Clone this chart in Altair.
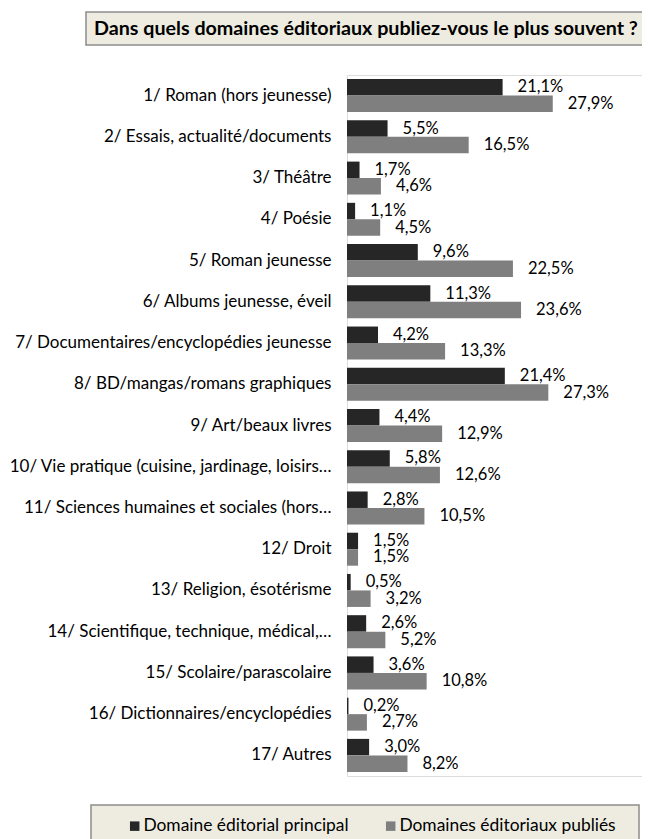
import altair as alt
import pandas as pd

categories = [
    "1/ Roman (hors jeunesse)",
    "2/ Essais, actualité/documents",
    "3/ Théâtre",
    "4/ Poésie",
    "5/ Roman jeunesse",
    "6/ Albums jeunesse, éveil",
    "7/ Documentaires/encyclopédies jeunesse",
    "8/ BD/mangas/romans graphiques",
    "9/ Art/beaux livres",
    "10/ Vie pratique (cuisine, jardinage, loisirs…",
    "11/ Sciences humaines et sociales (hors…",
    "12/ Droit",
    "13/ Religion, ésotérisme",
    "14/ Scientifique, technique, médical,…",
    "15/ Scolaire/parascolaire",
    "16/ Dictionnaires/encyclopédies",
    "17/ Autres",
]
principal = [21.1, 5.5, 1.7, 1.1, 9.6, 11.3, 4.2, 21.4, 4.4, 5.8, 2.8, 1.5, 0.5, 2.6, 3.6, 0.2, 3.0]
publies = [27.9, 16.5, 4.6, 4.5, 22.5, 23.6, 13.3, 27.3, 12.9, 12.6, 10.5, 1.5, 3.2, 5.2, 10.8, 2.7, 8.2]
series = ["Domaine éditorial principal", "Domaines éditoriaux publiés"]
colors = ["#262626", "#7f7f7f"]
title_text = "Dans quels domaines éditoriaux publiez-vous le plus souvent ?"

rows = []
for i, c in enumerate(categories):
    for s, vals in zip(series, [principal, publies]):
        v = vals[i]
        rows.append({"cat": c, "series": s, "value": v,
                     "label": f"{v:.1f}".replace(".", ",") + "%"})
df = pd.DataFrame(rows)

FONT = "Lato"
W, H = 295, 701
BOX_FILL = "#eeece1"
BOX_STROKE = "#8c8c8c"

y_enc = alt.Y("cat:N", sort=categories, title=None,
              scale=alt.Scale(paddingInner=0.2, paddingOuter=0.1),
              axis=alt.Axis(domain=False, ticks=False, grid=False, labelFontSize=17,
                            labelColor="#000000", labelFont=FONT,
                            labelPadding=16, labelLimit=400))
yoff = alt.YOffset("series:N", sort=series, scale=alt.Scale(paddingInner=0, paddingOuter=0))
x_enc = alt.X("value:Q", scale=alt.Scale(domain=[0, 40]), axis=None)

base = alt.Chart(df)

bars = base.mark_bar().encode(
    x=x_enc, y=y_enc, yOffset=yoff,
    color=alt.Color("series:N", sort=series,
                    scale=alt.Scale(domain=series, range=colors),
                    legend=alt.Legend(title=None, orient="none", legendX=-221, legendY=742,
                                      direction="horizontal", symbolType="square",
                                      symbolSize=90, symbolStrokeWidth=0,
                                      labelFontSize=17.4, labelFont=FONT,
                                      labelColor="#000000", columnPadding=33,
                                      labelOffset=0, labelLimit=400)),
)

labels = base.mark_text(align="left", baseline="middle", dx=15, fontSize=16.5,
                        font=FONT, color="#000000").encode(
    x=x_enc, y=y_enc, yOffset=yoff, text="label:N")

one = alt.Data(values=[{"k": 0}])

# decorative framed boxes (title and legend backgrounds); the title box runs off the right edge
title_box = alt.Chart(one).mark_rect(fill=BOX_FILL, stroke=BOX_STROKE, strokeWidth=1.5).encode(
    x=alt.value(-261), x2=alt.value(W + 30), y=alt.value(-63), y2=alt.value(-30))
title_mark = alt.Chart(one).mark_text(align="left", baseline="middle", fontSize=19.7,
                                      fontWeight="bold", font=FONT, color="#000000").encode(
    x=alt.value(-253), y=alt.value(-46), text=alt.value(title_text))

legend_box = alt.Chart(one).mark_rect(fill=BOX_FILL, stroke=BOX_STROKE, strokeWidth=1.5).encode(
    x=alt.value(-256), x2=alt.value(292), y=alt.value(730), y2=alt.value(790))

chart = alt.layer(title_box, legend_box, bars, labels, title_mark).properties(
    width=W, height=H,
    autosize=alt.AutoSizeParams(type="none"),
    padding={"left": 339, "top": 67, "right": 0, "bottom": 63},
).configure_view(stroke="transparent", strokeWidth=0, strokeOpacity=0
).configure_axis(domain=False, ticks=False, grid=False
).configure(background="#ffffff")

chart.save("out.html", embed_options={"renderer": "svg", "actions": False})
